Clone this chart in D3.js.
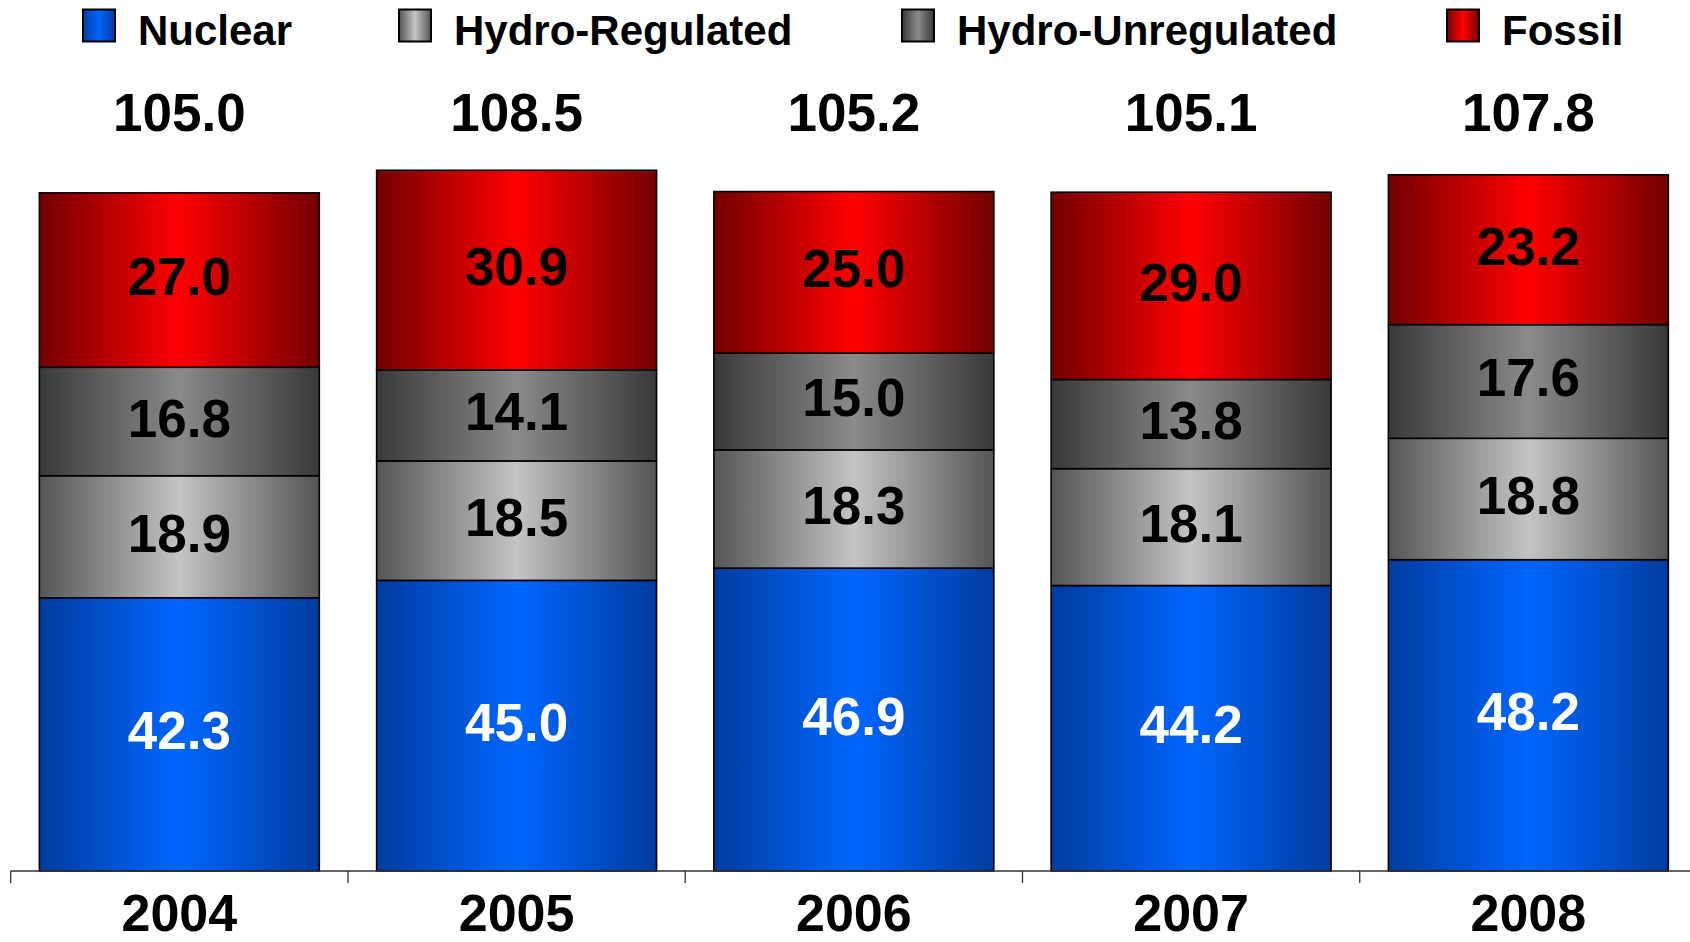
<!DOCTYPE html>
<html>
<head>
<meta charset="utf-8">
<script src="https://cdn.jsdelivr.net/npm/d3@7"></script>
<style>
  body { margin: 0; background: #fff; }
  text { font-family: "Liberation Sans", Arial, sans-serif; font-weight: bold; }
</style>
</head>
<body>
<svg id="chart" width="1690" height="942"></svg>
<script>
const years = ["2004", "2005", "2006", "2007", "2008"];
const seriesNames = ["Nuclear", "Hydro-Regulated", "Hydro-Unregulated", "Fossil"];
const nuclear = [42.3, 45.0, 46.9, 44.2, 48.2];
const hydroRegulated = [18.9, 18.5, 18.3, 18.1, 18.8];
const hydroUnregulated = [16.8, 14.1, 15.0, 13.8, 17.6];
const fossil = [27.0, 30.9, 25.0, 29.0, 23.2];
const totals = ["105.0", "108.5", "105.2", "105.1", "107.8"];

// edge / centre colours for the bar shading
const shades = {
  "Nuclear": ["#003c9e", "#0066ff"],
  "Hydro-Regulated": ["#555555", "#c4c4c4"],
  "Hydro-Unregulated": ["#393939", "#8a8a8a"],
  "Fossil": ["#720000", "#ff0000"]
};
const labelColor = { "Nuclear": "#fff", "Hydro-Regulated": "#000", "Hydro-Unregulated": "#000", "Fossil": "#000" };
const legendX = [83, 399, 902, 1447];

const svg = d3.select("#chart");
const defs = svg.append("defs");
const gradId = (name) => "g-" + name.replace(/[^a-z]/gi, "");

seriesNames.forEach((name) => {
  const [edge, mid] = shades[name];
  const g = defs.append("linearGradient")
    .attr("id", gradId(name))
    .attr("x1", "0%").attr("x2", "100%").attr("y1", "0%").attr("y2", "0%");
  g.append("stop").attr("offset", "0%").attr("stop-color", edge);
  g.append("stop").attr("offset", "50%").attr("stop-color", mid);
  g.append("stop").attr("offset", "100%").attr("stop-color", edge);
});

const rows = years.map((year, i) => ({
  year,
  "Nuclear": nuclear[i],
  "Hydro-Regulated": hydroRegulated[i],
  "Hydro-Unregulated": hydroUnregulated[i],
  "Fossil": fossil[i]
}));

const x = d3.scaleBand().domain(years).range([10.7, 1697]).padding(0);
const y = d3.scaleLinear().domain([0, 120]).range([871, 96]);
const barW = x.bandwidth() * 0.83;

const stacked = d3.stack().keys(seriesNames)(rows);

const layer = svg.append("g")
  .selectAll("g")
  .data(stacked)
  .join("g")
  .attr("fill", (d) => "url(#" + gradId(d.key) + ")");

layer.selectAll("rect")
  .data((d) => d.map((p) => Object.assign(p, { key: d.key })))
  .join("rect")
  .attr("x", (d) => x(d.data.year) + (x.bandwidth() - barW) / 2)
  .attr("width", barW)
  .attr("y", (d) => y(d[1]))
  .attr("height", (d) => y(d[0]) - y(d[1]))
  .attr("stroke", "#000")
  .attr("stroke-width", 1.6);

layer.selectAll("text")
  .data((d) => d)
  .join("text")
  .attr("x", (d) => x(d.data.year) + x.bandwidth() / 2)
  .attr("y", (d) => (y(d[0]) + y(d[1])) / 2 + 15)
  .attr("text-anchor", "middle")
  .attr("font-size", 53)
  .attr("fill", (d) => labelColor[d.key])
  .text((d) => d.data[d.key].toFixed(1));

// totals above bars
svg.append("g")
  .selectAll("text")
  .data(years)
  .join("text")
  .attr("x", (d) => x(d) + x.bandwidth() / 2)
  .attr("y", 131)
  .attr("text-anchor", "middle")
  .attr("font-size", 53)
  .text((d, i) => totals[i]);

// category axis
const axis = svg.append("g").attr("transform", "translate(0,871)");
axis.append("line")
  .attr("x1", 10.7).attr("x2", 1697)
  .attr("stroke", "#333").attr("stroke-width", 1.3);
axis.selectAll("line.tick")
  .data(years)
  .join("line")
  .attr("class", "tick")
  .attr("x1", (d) => x(d)).attr("x2", (d) => x(d))
  .attr("y1", 0).attr("y2", 12)
  .attr("stroke", "#333").attr("stroke-width", 1.3);
axis.selectAll("text")
  .data(years)
  .join("text")
  .attr("x", (d) => x(d) + x.bandwidth() / 2)
  .attr("y", 60)
  .attr("text-anchor", "middle")
  .attr("font-size", 52)
  .text((d) => d);

// legend
const legend = svg.append("g")
  .selectAll("g")
  .data(seriesNames)
  .join("g")
  .attr("transform", (d, i) => "translate(" + legendX[i] + ",0)");
legend.append("rect")
  .attr("x", 0).attr("y", 9.5)
  .attr("width", 32).attr("height", 32)
  .attr("fill", (d) => "url(#" + gradId(d) + ")")
  .attr("stroke", "#000").attr("stroke-width", 2);
legend.append("text")
  .attr("x", 55).attr("y", 45)
  .attr("font-size", 42)
  .text((d) => d);
</script>
</body>
</html>
